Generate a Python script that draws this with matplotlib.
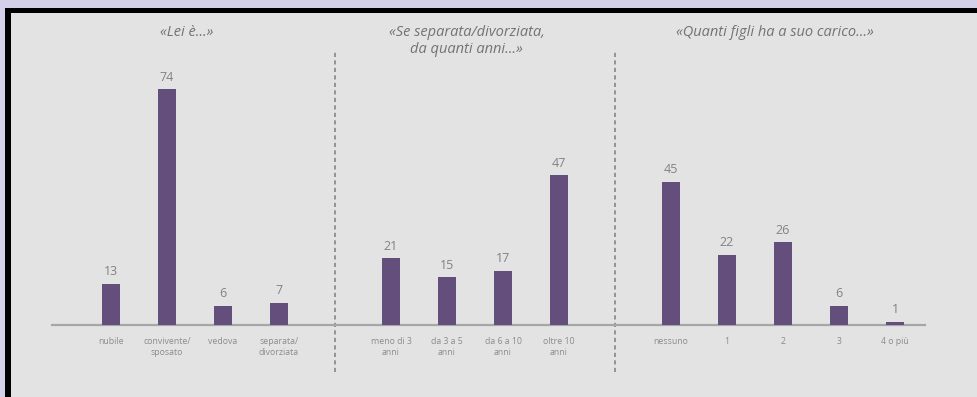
import matplotlib.pyplot as plt
from matplotlib.patches import Rectangle
from matplotlib.transforms import blended_transform_factory

plt.rcParams['font.family'] = ['Open Sans', 'DejaVu Sans']

# domande e risposte (%)
titoli = ['«Lei è...»', '«Se separata/divorziata,\nda quanti anni...»', '«Quanti figli ha a suo carico...»']

stato_labels = ['nubile', 'convivente/\nsposato', 'vedova', 'separata/\ndivorziata']
stato_values = [13, 74, 6, 7]

anni_labels = ['meno di 3\nanni', 'da 3 a 5\nanni', 'da 6 a 10\nanni', 'oltre 10\nanni']
anni_values = [21, 15, 17, 47]

figli_labels = ['nessuno', '1', '2', '3', '4 o più']
figli_values = [45, 22, 26, 6, 1]

gruppi = [(stato_labels, stato_values), (anni_labels, anni_values), (figli_labels, figli_values)]

VIOLA = '#634e7c'
GRIGIO_TESTO = '#828282'

W, H = 977, 397
fig = plt.figure(figsize=(W / 100, H / 100), dpi=100)
fig.patch.set_facecolor('#d4d0ea')

# cornice nera e fondo grigio della slide
fig.add_artist(Rectangle((5 / W, 0), 1, (H - 8) / H, transform=fig.transFigure,
                         facecolor='black', edgecolor='none', zorder=-10))
fig.add_artist(Rectangle((11 / W, 0), 1, (H - 13) / H, transform=fig.transFigure,
                         facecolor='#e3e3e3', edgecolor='none', zorder=-9))

base_px = 325
ax = fig.add_axes([52 / W, (H - base_px) / H, 873 / W, (base_px - 13) / H])
ax.patch.set_visible(False)
ax.set_zorder(1)

# posizioni: una colonna vuota tra un gruppo e l'altro
pos, labels, values, centri, separatori = [], [], [], [], []
x = 0
for i, (lab, val) in enumerate(gruppi):
    xs = list(range(x, x + len(lab)))
    pos += xs
    labels += lab
    values += val
    centri.append(sum(xs) / len(xs) - 0.15)
    x += len(lab)
    if i < len(gruppi) - 1:
        separatori.append(x)
        x += 1

bars = ax.bar(pos, values, width=0.33, color=VIOLA, zorder=3)
for b, v in zip(bars, values):
    ax.annotate(str(v), (b.get_x() + b.get_width() / 2, v), xytext=(0, 4),
                textcoords='offset points', ha='center', va='bottom',
                fontsize=9, color=GRIGIO_TESTO)

ax.set_xlim(-1.054, 14.536)
ax.set_ylim(0, 98)

ax.set_xticks(pos)
ax.set_xticklabels(labels, fontsize=6.3, color='#8c8c8c', linespacing=1.3)
ax.tick_params(axis='x', length=0, pad=8.5)
ax.set_yticks([])
for s in ['top', 'left', 'right']:
    ax.spines[s].set_visible(False)
ax.spines['bottom'].set_color('#a6a6a6')
ax.spines['bottom'].set_linewidth(1.6)

# linee tratteggiate tra le domande
for s in separatori:
    ax.vlines(s, -14.8, 85.8, colors='#858585', linestyles=(0, (2.5, 2)),
              linewidth=1.2, clip_on=False, zorder=2)

tr = blended_transform_factory(ax.transData, fig.transFigure)
for c, t in zip(centri, titoli):
    ax.text(c, 1 - 25 / H, t, transform=tr, ha='center', va='top',
            fontsize=10.5, style='italic', color='#737373', linespacing=1.2)

fig.savefig('out.png', dpi=100, facecolor=fig.get_facecolor())
